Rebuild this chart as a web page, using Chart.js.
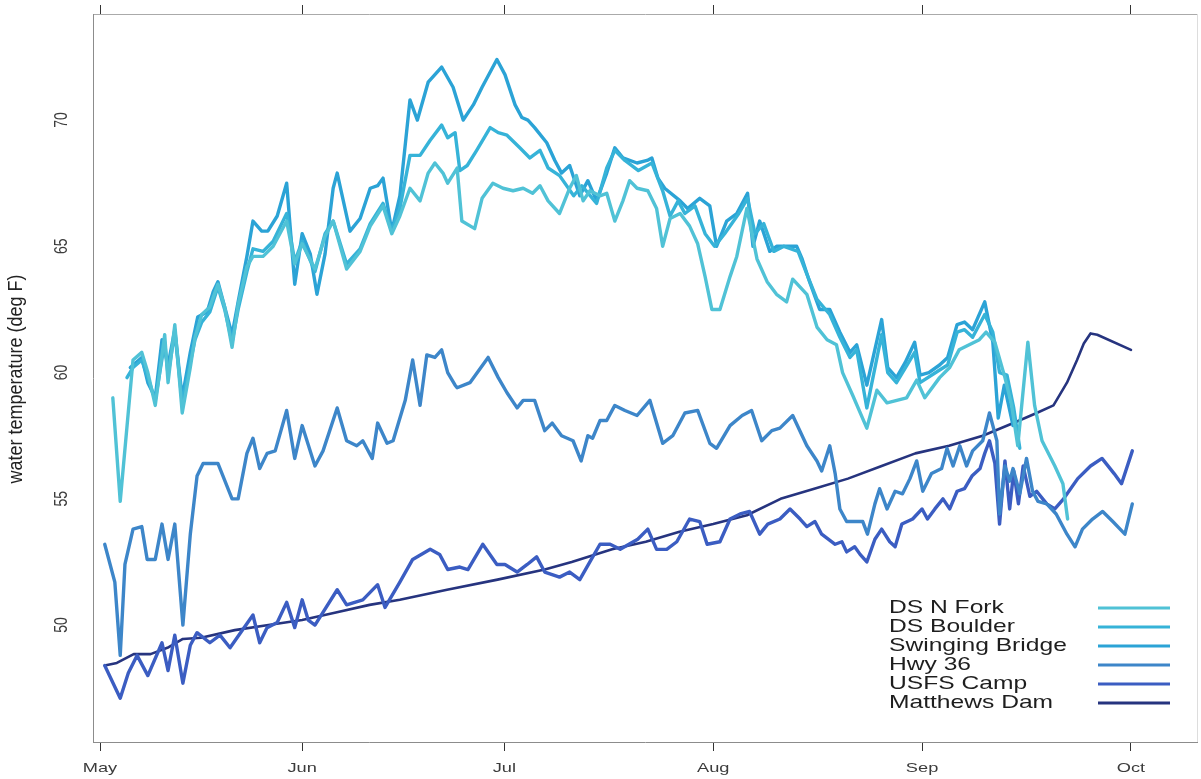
<!DOCTYPE html>
<html>
<head>
<meta charset="utf-8">
<title>Water temperature by site</title>
<script src="https://cdn.jsdelivr.net/npm/chart.js@4.4.1/dist/chart.umd.min.js"></script>
<style>
  html, body { margin: 0; padding: 0; background: #fff; }
</style>
</head>
<body>
<canvas id="tempChart" width="1201" height="779"></canvas>
<script>
// x values are days counted from the May tick (0 = May 1)
const monthDays = [0, 30, 60, 91, 122, 153];
const monthLabels = ['May', 'Jun', 'Jul', 'Aug', 'Sep', 'Oct'];
const tempTicks = [50, 55, 60, 65, 70];

const siteNames = ['DS N Fork', 'DS Boulder', 'Swinging Bridge', 'Hwy 36', 'USFS Camp', 'Matthews Dam'];
const siteColors = ['#50c2d6', '#36b3d8', '#2ba3d6', '#3d86c9', '#3b5dc2', '#26347f'];

// [day, deg F]
const dsNFork = [[1.9,59.0],[3.0,54.9],[4.9,60.5],[6.2,60.8],[7.1,60.0],[8.2,58.7],[9.6,61.5],[10.1,59.6],[11.1,61.9],[12.2,58.4],[13.4,60.2],[14.1,61.4],[15.1,62.3],[16.3,62.6],[17.5,63.5],[18.5,62.6],[19.6,61.0],[20.5,62.7],[21.8,64.2],[22.7,64.6],[24.2,64.6],[25.7,65.0],[27.7,66.0],[28.9,64.3],[30.0,65.1],[31.9,64.1],[33.4,65.4],[34.6,66.0],[36.6,64.1],[38.6,64.8],[40.1,65.8],[42.0,66.6],[43.3,65.5],[44.5,66.2],[46.0,67.3],[47.5,66.8],[48.7,67.9],[49.7,68.3],[50.9,67.9],[51.6,67.5],[53.0,68.1],[53.7,66.0],[55.6,65.7],[56.7,66.9],[58.3,67.5],[59.8,67.3],[61.3,67.2],[62.8,67.3],[64.2,67.1],[65.3,67.4],[66.5,66.8],[68.2,66.3],[69.7,67.3],[70.7,67.8],[71.7,66.8],[72.7,67.2],[74.2,67.0],[75.2,67.1],[76.4,66.0],[77.6,66.8],[78.6,67.6],[79.7,67.3],[81.3,67.2],[82.6,66.5],[83.5,65.0],[84.6,66.1],[86.1,66.3],[87.5,65.8],[88.7,65.1],[89.8,63.8],[90.8,62.5],[92.0,62.5],[93.5,63.8],[94.5,64.6],[96.0,66.5],[97.5,64.5],[99.0,63.6],[100.4,63.1],[101.9,62.8],[102.8,63.7],[104.9,63.1],[106.4,61.8],[107.9,61.3],[109.3,61.1],[110.2,60.0],[111.7,59.1],[113.8,57.8],[115.3,59.3],[116.8,58.8],[119.7,59.0],[121.2,59.7],[122.4,59.0],[124.6,59.8],[126.1,60.2],[127.5,60.9],[129.0,61.1],[130.5,61.3],[131.5,61.6],[132.8,61.2],[134.3,59.8],[135.3,58.7],[136.2,57.1],[137.7,61.2],[138.7,58.7],[139.8,57.3],[141.7,56.3],[142.9,55.6],[143.6,54.2]];
const dsBoulder = [[4.0,59.8],[4.9,60.2],[6.2,60.5],[7.1,59.8],[8.2,58.9],[9.6,61.2],[10.1,59.9],[11.1,61.6],[12.2,58.8],[13.4,60.4],[14.1,61.3],[15.1,62.0],[16.3,62.4],[17.5,63.4],[18.5,62.5],[19.6,61.2],[20.5,62.5],[21.8,64.0],[22.7,64.9],[24.2,64.8],[25.7,65.2],[27.7,66.3],[28.9,64.4],[30.0,65.2],[31.9,64.0],[33.4,65.5],[34.6,66.0],[36.6,64.3],[38.6,64.9],[40.1,65.9],[42.0,66.7],[43.3,65.6],[44.5,66.5],[46.0,68.6],[47.5,68.6],[49.0,69.2],[50.7,69.8],[51.6,69.3],[52.7,69.5],[53.4,68.0],[54.5,68.2],[55.9,68.8],[57.9,69.7],[59.1,69.5],[60.4,69.4],[62.3,68.9],[63.8,68.5],[65.3,68.8],[66.5,68.1],[68.2,67.8],[70.3,67.0],[71.5,67.4],[73.7,66.7],[75.2,68.1],[76.4,68.8],[77.9,68.4],[79.9,68.0],[81.9,68.3],[83.5,67.2],[84.6,66.2],[85.8,66.8],[86.8,66.3],[88.3,66.6],[89.8,65.5],[91.2,65.0],[92.7,65.5],[94.8,66.3],[96.1,66.9],[97.2,65.5],[98.5,65.9],[100.0,64.8],[101.5,65.0],[103.6,64.8],[104.9,63.9],[106.4,62.9],[108.3,62.3],[109.8,61.4],[111.3,60.6],[112.3,60.9],[113.8,58.6],[116.0,61.5],[116.9,60.0],[118.2,59.6],[120.9,60.8],[121.7,59.6],[124.6,60.1],[125.8,60.3],[127.2,61.6],[128.3,61.7],[129.5,61.4],[131.3,62.3],[132.5,61.6],[133.5,60.0],[134.6,59.9],[135.6,58.6],[136.5,57.0]];
const swingingBridge = [[4.5,60.2],[6.2,60.6],[7.1,59.6],[8.2,59.0],[9.2,61.3],[10.1,60.3],[11.1,61.7],[12.2,59.0],[13.4,60.8],[14.5,62.2],[15.9,62.4],[16.8,63.2],[17.5,63.6],[18.5,62.6],[19.6,61.5],[20.5,62.8],[21.8,64.6],[22.7,66.0],[24.0,65.6],[24.9,65.6],[26.3,66.2],[27.7,67.5],[28.9,63.5],[30.0,65.5],[31.2,64.7],[32.2,63.1],[33.4,64.7],[34.6,67.3],[35.2,67.9],[37.1,65.6],[38.6,66.1],[40.1,67.3],[41.2,67.4],[42.0,67.7],[43.3,65.6],[44.5,67.0],[46.0,70.8],[47.1,70.0],[48.7,71.5],[50.7,72.1],[52.4,71.3],[53.9,70.0],[55.4,70.6],[56.7,71.3],[58.9,72.4],[60.1,71.8],[61.6,70.6],[62.6,70.1],[63.5,70.0],[64.5,69.7],[66.3,69.1],[67.5,68.4],[68.5,67.9],[69.7,68.2],[71.2,67.0],[72.4,67.6],[73.7,66.8],[75.2,67.9],[76.4,68.9],[77.6,68.5],[79.7,68.3],[81.2,68.4],[81.9,68.5],[82.8,67.7],[83.8,67.3],[86.1,66.8],[87.2,66.5],[89.0,66.9],[90.5,66.6],[91.5,65.0],[93.0,66.0],[94.5,66.3],[96.1,67.1],[96.9,65.0],[97.9,66.0],[99.4,64.8],[100.4,65.0],[103.4,65.0],[104.2,64.5],[105.3,63.6],[106.8,62.5],[108.3,62.5],[109.8,61.6],[111.3,60.8],[112.3,61.1],[113.8,59.5],[116.0,62.1],[116.9,60.2],[118.2,59.8],[119.5,60.4],[120.9,61.2],[121.7,59.9],[123.0,60.0],[124.6,60.3],[125.8,60.6],[127.2,61.9],[128.3,62.0],[129.5,61.7],[131.3,62.8],[132.5,61.2],[133.3,58.2],[134.2,59.5],[135.5,57.9]];
const hwy36 = [[0.7,53.2],[2.2,51.7],[3.0,48.8],[3.7,52.4],[4.9,53.8],[6.2,53.9],[7.0,52.6],[8.2,52.6],[9.2,54.0],[10.1,52.6],[11.1,54.0],[12.3,50.0],[13.4,53.6],[14.4,55.9],[15.3,56.4],[17.5,56.4],[19.6,55.0],[20.5,55.0],[21.8,56.8],[22.7,57.4],[23.7,56.2],[24.8,56.8],[26.0,56.9],[27.7,58.5],[28.9,56.6],[30.0,57.9],[31.9,56.3],[33.1,56.9],[35.2,58.6],[36.6,57.3],[38.1,57.1],[39.0,57.3],[40.4,56.6],[41.2,58.0],[42.6,57.2],[43.5,57.3],[45.3,58.9],[46.4,60.5],[47.5,58.7],[48.5,60.7],[49.7,60.6],[50.7,60.9],[51.6,60.0],[52.7,59.5],[53.0,59.4],[54.9,59.6],[57.6,60.6],[59.1,59.8],[60.4,59.2],[61.9,58.6],[62.8,58.9],[64.5,58.9],[66.0,57.7],[67.1,58.0],[68.5,57.5],[70.2,57.3],[71.4,56.5],[72.4,57.5],[73.1,57.4],[74.2,58.1],[75.2,58.1],[76.4,58.7],[77.9,58.5],[79.7,58.3],[81.6,58.9],[83.5,57.2],[85.0,57.5],[86.8,58.4],[88.7,58.5],[90.5,57.2],[91.5,57.0],[93.5,57.9],[95.3,58.3],[96.7,58.5],[98.2,57.3],[99.7,57.7],[100.9,57.8],[102.8,58.3],[104.9,57.1],[106.4,56.5],[107.1,56.1],[108.3,57.1],[109.1,56.0],[109.8,54.6],[110.8,54.1],[113.2,54.1],[113.9,53.6],[115.0,54.8],[115.7,55.4],[116.8,54.6],[118.0,55.3],[119.1,55.2],[120.2,55.8],[121.2,56.5],[122.1,55.3],[123.4,56.0],[124.9,56.2],[125.7,57.0],[126.6,56.3],[127.6,57.1],[128.6,56.3],[129.5,56.9],[131.0,57.3],[132.0,58.4],[133.1,57.3],[133.5,54.4],[134.3,56.3],[135.0,55.7],[135.5,56.2],[136.5,55.2],[137.5,56.6],[138.4,55.3],[139.2,54.9],[140.5,54.8],[141.9,54.4],[143.5,53.6],[144.7,53.1],[145.8,53.8],[147.3,54.2],[148.8,54.5],[150.3,54.1],[152.1,53.6],[153.2,54.8]];
const usfsCamp = [[0.7,48.4],[3.0,47.1],[4.2,48.1],[5.5,48.8],[7.1,48.0],[9.2,49.3],[10.1,48.2],[11.1,49.6],[12.3,47.7],[13.4,49.2],[14.4,49.7],[16.3,49.3],[17.8,49.6],[19.3,49.1],[22.7,50.4],[23.7,49.3],[24.8,49.9],[26.3,50.1],[27.7,50.9],[28.9,49.9],[30.0,51.0],[30.9,50.2],[31.9,50.0],[35.2,51.4],[36.6,50.8],[39.0,51.0],[41.2,51.6],[42.3,50.7],[44.5,51.7],[46.4,52.6],[49.0,53.0],[50.4,52.8],[51.6,52.2],[53.4,52.3],[54.6,52.2],[56.8,53.2],[58.9,52.4],[60.1,52.4],[61.9,52.1],[63.4,52.4],[64.8,52.7],[66.0,52.1],[68.2,51.9],[69.7,52.1],[71.2,51.8],[72.7,52.5],[74.2,53.2],[75.7,53.2],[77.2,53.0],[79.8,53.4],[81.3,53.8],[82.6,53.0],[84.1,53.0],[85.6,53.3],[87.5,54.2],[89.0,54.1],[90.1,53.2],[92.0,53.3],[93.5,54.2],[95.0,54.4],[96.4,54.5],[97.9,53.6],[99.1,54.0],[100.9,54.2],[102.4,54.6],[103.9,54.2],[104.9,53.9],[106.1,54.1],[107.1,53.6],[109.1,53.2],[110.1,53.3],[110.8,52.9],[112.0,53.1],[112.8,52.8],[113.8,52.5],[115.0,53.4],[116.0,53.8],[117.2,53.3],[118.0,53.1],[119.0,54.0],[120.6,54.2],[122.0,54.6],[122.8,54.2],[123.9,54.6],[125.1,55.0],[126.1,54.6],[127.2,55.3],[128.3,55.4],[129.4,55.9],[130.6,56.2],[131.3,56.8],[132.0,57.3],[132.8,56.4],[133.5,54.0],[134.3,56.5],[135.0,54.6],[135.6,56.1],[136.3,54.8],[137.0,56.3],[138.0,55.1],[139.0,55.3],[140.5,54.8],[141.7,54.6],[143.0,55.0],[145.1,55.8],[147.0,56.3],[148.7,56.6],[150.5,56.0],[151.6,55.6],[153.2,56.9]];
const matthewsDam = [[0.7,48.4],[2.5,48.5],[5.0,48.85],[7.5,48.85],[10.0,49.1],[12.3,49.45],[15.0,49.5],[20.0,49.8],[25.0,50.0],[30.0,50.2],[35.0,50.5],[40.0,50.8],[44.5,51.0],[51.5,51.4],[59.0,51.8],[66.0,52.2],[70.0,52.5],[76.0,53.0],[81.0,53.3],[86.0,53.7],[91.0,54.0],[96.0,54.35],[101.0,55.0],[106.0,55.4],[111.0,55.8],[116.0,56.3],[121.0,56.8],[126.0,57.1],[131.0,57.5],[136.0,58.05],[139.0,58.4],[141.5,58.7],[143.5,59.6],[145.0,60.5],[146.0,61.15],[147.0,61.55],[148.0,61.5],[153.0,60.9]];

const siteSeries = [dsNFork, dsBoulder, swingingBridge, hwy36, usfsCamp, matthewsDam];

// axis ranges matching the original panel
const dayMin = -1.04, dayMax = 162.8;
const tempMin = 45.37, tempMax = 74.2;

const textFont = '"Liberation Sans", Arial, Helvetica, sans-serif';

// the source figure is a bit stretched sideways, so text is widened a little
function wideText(ctx, text, x, y, sx) {
    ctx.save();
    ctx.translate(x, y);
    ctx.scale(sx, 1);
    ctx.fillText(text, 0, 0);
    ctx.restore();
}

const monthTicks = scale => { scale.ticks = monthDays.map(v => ({ value: v })); };

const textPlugin = {
    id: 'panelText',
    afterDraw(chart) {
        const ctx = chart.ctx;
        const xs = chart.scales.x;
        const ys = chart.scales.y;
        const area = chart.chartArea;
        ctx.save();

        // faint right edge of the panel
        ctx.strokeStyle = '#dddddd';
        ctx.lineWidth = 1;
        ctx.beginPath();
        ctx.moveTo(area.right + 0.5, area.top);
        ctx.lineTo(area.right + 0.5, area.bottom);
        ctx.stroke();

        // month labels
        ctx.fillStyle = '#3c3c3c';
        ctx.textAlign = 'center';
        ctx.textBaseline = 'middle';
        ctx.font = '13.5px ' + textFont;
        monthDays.forEach((d, i) => {
            wideText(ctx, monthLabels[i], xs.getPixelForValue(d), 768, 1.35);
        });

        // temperature labels, parallel to the axis
        ctx.font = '14px ' + textFont;
        tempTicks.forEach(t => {
            ctx.save();
            ctx.translate(62, ys.getPixelForValue(t));
            ctx.rotate(-Math.PI / 2);
            ctx.scale(1, 1.25);
            ctx.fillText(String(t), 0, 0);
            ctx.restore();
        });

        // y title
        ctx.fillStyle = '#222';
        ctx.font = '18px ' + textFont;
        ctx.save();
        ctx.translate(17, (area.top + area.bottom) / 2 + 1);
        ctx.rotate(-Math.PI / 2);
        ctx.scale(1, 1.1);
        ctx.fillText('water temperature (deg F)', 0, 0);
        ctx.restore();

        // legend: names on the left, line samples on the right
        ctx.font = '18.5px ' + textFont;
        ctx.textAlign = 'left';
        chart.data.datasets.forEach((ds, i) => {
            const y = 608 + 19 * i;
            ctx.fillStyle = '#1e1e1e';
            wideText(ctx, ds.label, 889, y, 1.33);
            ctx.strokeStyle = ds.borderColor;
            ctx.lineWidth = 3;
            ctx.beginPath();
            ctx.moveTo(1098, y);
            ctx.lineTo(1170, y);
            ctx.stroke();
        });

        ctx.restore();
    }
};

const datasets = siteSeries.map((pts, i) => ({
    label: siteNames[i],
    data: pts.map(p => ({ x: p[0], y: p[1] })),
    borderColor: siteColors[i],
    backgroundColor: siteColors[i],
    borderWidth: i === 5 ? 2.6 : 3.4,
    pointRadius: 0,
    tension: 0,
    fill: false,
    borderJoinStyle: 'round',
    borderCapStyle: 'round'
}));

new Chart(document.getElementById('tempChart'), {
    type: 'line',
    data: { datasets: datasets },
    options: {
        responsive: false,
        animation: false,
        events: [],
        layout: { padding: { top: 5, right: 0, bottom: 0, left: 0 } },
        plugins: {
            legend: { display: false },
            tooltip: { enabled: false }
        },
        scales: {
            x: {
                type: 'linear',
                position: 'bottom',
                min: dayMin,
                max: dayMax,
                afterBuildTicks: monthTicks,
                afterFit: s => { s.height = 37; },
                ticks: { display: false },
                grid: { drawOnChartArea: false, drawTicks: true, tickLength: 9, color: '#333', lineWidth: 1 },
                border: { color: '#8c8c8c', width: 1 }
            },
            x2: {
                type: 'linear',
                position: 'top',
                min: dayMin,
                max: dayMax,
                afterBuildTicks: monthTicks,
                afterFit: s => { s.height = 9; },
                ticks: { display: false },
                grid: { drawOnChartArea: false, drawTicks: true, tickLength: 9, color: '#333', lineWidth: 1 },
                border: { color: '#aaaaaa', width: 1 }
            },
            y: {
                type: 'linear',
                position: 'left',
                min: tempMin,
                max: tempMax,
                afterBuildTicks: s => { s.ticks = tempTicks.map(v => ({ value: v })); },
                afterFit: s => { s.width = 93; },
                ticks: { display: false },
                grid: { display: false },
                border: { color: '#8c8c8c', width: 1 }
            },
            y2: {
                type: 'linear',
                position: 'right',
                min: tempMin,
                max: tempMax,
                afterFit: s => { s.width = 4; },
                ticks: { display: false },
                grid: { display: false },
                border: { display: false }
            }
        }
    },
    plugins: [textPlugin]
});
</script>
</body>
</html>
